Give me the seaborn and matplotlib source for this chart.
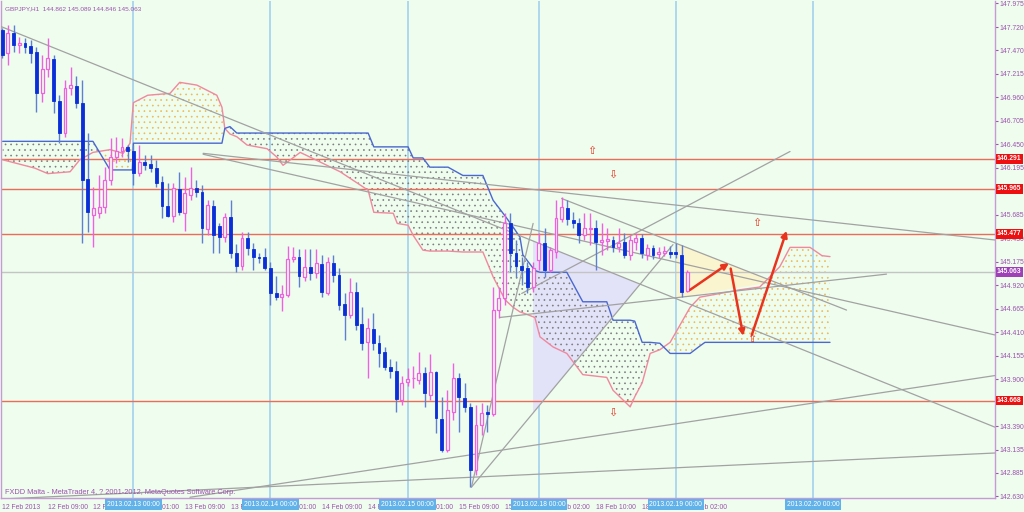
import numpy as np
import matplotlib
matplotlib.use("Agg")
import matplotlib.pyplot as plt
import matplotlib.transforms as mtransforms
from matplotlib.patches import Polygon
import seaborn as sns

# ===== DADOS (GBPJPY H1) =====
# posicao da barra (0 = 2013.02.13 00:00), uma vela por hora
bar_idx = list(range(-23, 98))

open_ = [147.69, 147.44, 147.66, 147.53, 147.55, 147.51, 147.45, 147.00, 147.26, 147.37,
         146.92, 146.57, 147.06, 147.08, 146.90, 146.07, 145.68, 145.70, 145.77, 146.06,
         146.31, 146.38, 146.42, 146.38, 146.14, 146.26, 146.23, 146.19, 146.04, 145.78,
         145.67, 145.96, 145.70, 145.90, 145.97, 145.93, 145.53, 145.78, 145.56, 145.44,
         145.66, 145.27, 145.13, 145.43, 145.31, 145.23, 145.23, 145.11, 144.84, 144.79,
         144.81, 145.20, 145.23, 145.01, 145.12, 145.05, 145.15, 144.84, 145.16, 145.03,
         144.72, 144.60, 144.85, 144.50, 144.30, 144.44, 144.29, 144.19, 144.03, 143.99,
         143.68, 143.87, 143.91, 143.89, 143.97, 143.73, 143.98, 143.47, 143.13, 143.54,
         143.91, 143.70, 143.60, 142.92, 143.40, 143.54, 143.52, 144.65, 144.78, 145.59,
         145.27, 145.13, 145.11, 144.90, 145.19, 145.38, 145.08, 145.28, 145.64, 145.76,
         145.63, 145.59, 145.46, 145.53, 145.54, 145.39, 145.40, 145.41, 145.33, 145.39,
         145.25, 145.39, 145.43, 145.25, 145.32, 145.26, 145.27, 145.28, 145.28, 145.25,
         144.862]
high = [147.71, 147.74, 147.74, 147.61, 147.60, 147.58, 147.50, 147.42, 147.60, 147.42,
        146.98, 147.15, 147.29, 147.19, 147.15, 146.57, 145.98, 146.11, 146.20, 146.52,
        146.53, 146.52, 146.44, 146.44, 146.44, 146.33, 146.33, 146.28, 146.10, 146.03,
        146.03, 146.15, 146.09, 146.20, 146.06, 146.01, 145.84, 145.84, 145.59, 145.70,
        145.84, 145.37, 145.50, 145.50, 145.38, 145.27, 145.32, 145.17, 145.02, 144.92,
        145.34, 145.33, 145.31, 145.31, 145.31, 145.31, 145.25, 145.23, 145.25, 145.11,
        144.84, 145.00, 144.95, 144.68, 144.56, 144.62, 144.38, 144.25, 144.12, 144.10,
        143.94, 144.02, 144.04, 144.19, 144.03, 144.17, 143.99, 143.71, 143.78, 144.08,
        143.97, 143.86, 143.64, 143.62, 143.64, 143.62, 144.90, 144.90, 145.70, 145.70,
        145.41, 145.23, 145.17, 145.17, 145.49, 145.54, 145.33, 145.84, 145.88, 145.84,
        145.71, 145.65, 145.70, 145.70, 145.63, 145.59, 145.54, 145.45, 145.54, 145.49,
        145.46, 145.49, 145.48, 145.37, 145.36, 145.33, 145.34, 145.34, 145.38, 145.36,
        145.089]
low = [147.38, 147.31, 147.45, 147.44, 147.44, 147.33, 146.80, 146.91, 147.18, 146.79,
       146.46, 146.53, 146.98, 146.84, 145.38, 145.50, 145.33, 145.65, 145.70, 146.01,
       146.25, 146.31, 146.26, 146.01, 146.10, 146.17, 146.15, 145.99, 145.65, 145.66,
       145.60, 145.68, 145.51, 145.84, 145.88, 145.38, 145.46, 145.27, 145.27, 145.39,
       145.21, 145.06, 145.08, 145.25, 145.09, 145.16, 145.08, 144.71, 144.76, 144.64,
       144.79, 145.17, 144.90, 144.97, 144.98, 145.00, 144.79, 144.81, 144.95, 144.65,
       144.33, 144.56, 144.43, 144.22, 143.91, 144.22, 144.03, 144.00, 143.91, 143.54,
       143.62, 143.83, 143.80, 143.85, 143.60, 143.68, 143.32, 143.11, 143.11, 143.46,
       143.33, 143.54, 142.73, 142.86, 143.30, 143.33, 143.50, 144.56, 144.71, 145.06,
       145.01, 144.92, 144.84, 144.85, 145.08, 145.01, 145.06, 145.21, 145.60, 145.57,
       145.54, 145.38, 145.41, 145.36, 145.08, 145.25, 145.30, 145.28, 145.28, 145.21,
       145.19, 145.30, 145.21, 145.19, 145.20, 145.21, 145.24, 145.21, 145.21, 144.79,
       144.846]
close = [147.42, 147.66, 147.53, 147.55, 147.50, 147.44, 147.00, 147.26, 147.38, 146.92,
         146.57, 147.06, 147.09, 146.90, 146.06, 145.71, 145.76, 145.77, 146.06, 146.31,
         146.38, 146.42, 146.38, 146.14, 146.26, 146.22, 146.19, 146.03, 145.78, 145.67,
         145.97, 145.71, 145.92, 145.97, 145.93, 145.54, 145.79, 145.46, 145.44, 145.66,
         145.27, 145.13, 145.43, 145.32, 145.23, 145.21, 145.11, 144.84, 144.79, 144.82,
         145.20, 145.23, 145.02, 145.12, 145.05, 145.16, 144.85, 145.17, 145.03, 144.71,
         144.60, 144.85, 144.49, 144.29, 144.46, 144.29, 144.18, 144.03, 143.99, 143.69,
         143.86, 143.90, 143.91, 143.97, 143.75, 143.98, 143.48, 143.13, 143.57, 143.91,
         143.71, 143.60, 142.92, 143.40, 143.53, 143.52, 144.65, 144.78, 145.59, 145.27,
         145.13, 145.09, 144.90, 145.11, 145.38, 145.08, 145.30, 145.65, 145.77, 145.64,
         145.59, 145.46, 145.54, 145.54, 145.39, 145.41, 145.42, 145.33, 145.38, 145.25,
         145.41, 145.43, 145.27, 145.32, 145.25, 145.28, 145.29, 145.26, 145.26, 144.85,
         145.063]

cloud_j = [-22.9, -17.3, -15.0, -11.1, -9.4, -7.1, -4.1, -1.8, -0.6, -0.2, 0.0, 2.5, 6.4,
           8.1, 11.1, 14.6, 15.5, 16.0, 16.9, 18.1, 19.9, 23.4, 25.1, 26.2, 29.2, 30.9,
           36.2, 41.1, 42.1, 45.5, 46.2, 48.1, 49.0, 50.7, 51.9, 55.1, 57.7, 61.2, 63.0,
           65.1, 66.5, 67.7, 68.2, 70.3, 71.2, 73.5, 75.9, 78.7, 82.9, 84.0, 87.0, 87.8,
           89.1, 90.5, 92.2, 94.0, 97.5, 99.2, 100.1, 106.2, 109.7, 113.2, 115.0, 118.5,
           120.6, 122.0]
span_a = [146.28, 146.19, 146.13, 146.15, 146.28, 146.36, 146.39, 146.35, 146.46, 146.77,
          146.90, 146.98, 147.00, 147.12, 147.09, 146.98, 146.85, 146.62, 146.56, 146.53,
          146.44, 146.40, 146.31, 146.22, 146.36, 146.31, 146.15, 145.95, 145.71, 145.70,
          145.59, 145.57, 145.46, 145.30, 145.29, 145.29, 145.28, 145.28, 145.01, 144.76,
          144.68, 144.63, 144.62, 144.57, 144.36, 144.25, 144.18, 143.95, 143.92, 143.78,
          143.60, 143.71, 143.86, 144.18, 144.22, 144.30, 144.68, 144.79, 144.80, 144.87,
          144.90, 145.12, 145.33, 145.33, 145.24, 145.23]
span_b = [146.48, 146.48, 146.48, 146.48, 146.48, 146.48, 146.17, 146.17, 146.17, 146.17,
          146.46, 146.46, 146.46, 146.46, 146.46, 146.46, 146.46, 146.62, 146.64, 146.57,
          146.57, 146.57, 146.57, 146.57, 146.57, 146.57, 146.57, 146.57, 146.42, 146.42,
          146.42, 146.42, 146.30, 146.30, 146.20, 146.20, 146.11, 146.11, 145.84, 145.67,
          145.55, 145.44, 145.25, 145.08, 145.06, 145.06, 145.06, 144.74, 144.74, 144.54,
          144.54, 144.53, 144.30, 144.30, 144.29, 144.18, 144.18, 144.26, 144.30, 144.30,
          144.30, 144.30, 144.30, 144.30, 144.30, 144.30]

# niveis horizontais
red_levels = [146.291, 145.965, 145.477, 143.668]
last_price = 145.063

# linhas de tendencia (barra, preco) -> (barra, preco)
trend_x0 = [-23.4, 12.2, 12.2, 59.2, 59.2, 68.0, 64.2, 75.0, -23.4, 9.9]
trend_p0 = [147.73, 146.35, 146.34, 142.73, 142.73, 144.83, 144.57, 145.86, 142.60, 142.62]
trend_x1 = [150.9, 150.9, 150.9, 70.0, 94.5, 115.0, 131.9, 124.9, 150.9, 150.9]
trend_p1 = [143.38, 145.41, 144.38, 145.59, 145.36, 146.37, 145.04, 144.65, 143.10, 143.94]

# triangulos
tri_lilac_x = [70.0, 70.0, 88.8]
tri_lilac_p = [145.40, 143.53, 144.93]
tri_yellow_x = [95.1, 95.1, 112.3]
tri_yellow_p = [145.37, 144.78, 144.96]

# setas vermelhas (cenario)
arrow_x0 = [97.5, 104.6, 108.3]
arrow_p0 = [144.87, 145.10, 144.38]
arrow_x1 = [104.3, 106.8, 114.4]
arrow_p1 = [145.16, 144.37, 145.51]

# fractais
fractal_up_x = [80.3, 109.1, 108.3]
fractal_up_p = [146.37, 145.59, 144.34]
fractal_dn_x = [83.9, 84.0]
fractal_dn_p = [146.12, 143.54]

# eixos
xtick_pos = [-23, -15, -7, 1, 9, 17, 25, 33, 41, 49, 57, 65, 73, 81, 89, 97]
xtick_lbl = ["12 Feb 2013", "12 Feb 09:00", "12 Feb 17:00", "13 Feb 01:00", "13 Feb 09:00",
             "13 Feb 17:00", "14 Feb 01:00", "14 Feb 09:00", "14 Feb 17:00", "15 Feb 01:00",
             "15 Feb 09:00", "15 Feb 17:00", "18 Feb 02:00", "18 Feb 10:00", "18 Feb 18:00",
             "19 Feb 02:00"]
day_pos = [0, 24, 48, 71, 95, 119]
day_lbl = ["2013.02.13 00:00", "2013.02.14 00:00", "2013.02.15 00:00",
           "2013.02.18 00:00", "2013.02.19 00:00", "2013.02.20 00:00"]
ytick_vals = [147.975, 147.720, 147.470, 147.215, 146.960, 146.705, 146.450, 146.195,
              145.685, 145.430, 145.175, 144.920, 144.665, 144.410, 144.155, 143.900,
              143.390, 143.135, 142.885, 142.630]

# ===== ESTILO =====
BG = "#EFFDEE"
PURPLE = "#9C52AE"
BLUE = "#0A2FD8"
BLUE_WICK = "#5F7FD0"
PINK = "#F060E0"
SPAN_A_C = "#F0889E"
SPAN_B_C = "#4A68D0"
REDLINE = "#EE6B57"
TREND = "#A2A2A2"
FS = 4.9

sns.set_theme(style="white")
plt.rcParams["font.family"] = ["Liberation Sans", "DejaVu Sans"]
plt.rcParams["hatch.linewidth"] = 0.45

fig = plt.figure(figsize=(10.24, 5.12), dpi=100, facecolor=BG)
ax = fig.add_axes([1 / 1024, 14 / 512, 994 / 1024, 497 / 512])
ax.set_facecolor(BG)
ax.set_xlim(-23.2, 150.9)
ax.set_ylim(142.612, 148.002)

# separadores de dia
for d in day_pos:
    ax.axvline(d, color="#A9D5EE", lw=1.3, zorder=1)

# triangulos
ax.add_patch(Polygon(list(zip(tri_lilac_x, tri_lilac_p)), closed=True,
                     facecolor="#E2E2F8", edgecolor="none", zorder=1))
ax.add_patch(Polygon(list(zip(tri_yellow_x, tri_yellow_p)), closed=True,
                     facecolor="#FBF5CF", edgecolor="none", zorder=1))

# nuvem
a = np.array(span_a)
b = np.array(span_b)
ax.fill_between(cloud_j, a, b, where=a >= b, interpolate=True, facecolor="none",
                edgecolor="#EDB850", hatch="...", lw=0, zorder=2)
ax.fill_between(cloud_j, a, b, where=a < b, interpolate=True, facecolor="none",
                edgecolor="#7A7A7A", hatch="...", lw=0, zorder=2)
sns.lineplot(x=cloud_j, y=span_a, ax=ax, color=SPAN_A_C, lw=1, sort=False, zorder=3)
sns.lineplot(x=cloud_j, y=span_b, ax=ax, color=SPAN_B_C, lw=1, sort=False, zorder=3)

# niveis
for p in red_levels:
    ax.axhline(p, color=REDLINE, lw=1, zorder=2)
ax.axhline(last_price, color="#C4C4C4", lw=1, zorder=2)

# tendencias
for x0, p0, x1, p1 in zip(trend_x0, trend_p0, trend_x1, trend_p1):
    ax.plot([x0, x1], [p0, p1], color=TREND, lw=0.9, zorder=4)

# velas
x = np.array(bar_idx)
o, h, l, c = map(np.array, (open_, high, low, close))
bull = c >= o
body_lo = np.minimum(o, c)
body_h = np.maximum(np.abs(c - o), 0.008)
ax.vlines(x[~bull], l[~bull], h[~bull], color=BLUE_WICK, lw=1, zorder=5)
ax.vlines(x[bull], l[bull], h[bull], color=PINK, lw=1, zorder=5)
ax.bar(x[~bull], body_h[~bull], bottom=body_lo[~bull], width=0.5, color=BLUE,
       edgecolor=BLUE, lw=0.6, zorder=6)
ax.bar(x[bull], body_h[bull], bottom=body_lo[bull], width=0.5, color=BG,
       edgecolor=PINK, lw=0.9, zorder=6)

# setas
for x0, p0, x1, p1 in zip(arrow_x0, arrow_p0, arrow_x1, arrow_p1):
    ax.annotate("", xy=(x1, p1), xytext=(x0, p0),
                arrowprops=dict(arrowstyle="-|>", color="#E8341F", lw=1.8,
                                mutation_scale=9, shrinkA=0, shrinkB=0), zorder=7)
for fx, fp in zip(fractal_up_x, fractal_up_p):
    ax.text(fx, fp, "\u21e7", ha="center", va="center", fontsize=8, color="#E8341F",
            family="DejaVu Sans", zorder=7)
for fx, fp in zip(fractal_dn_x, fractal_dn_p):
    ax.text(fx, fp, "\u21e9", ha="center", va="center", fontsize=8, color="#E8341F",
            family="DejaVu Sans", zorder=7)

# eixos
ax.spines["top"].set_visible(False)
for s in ["left", "right", "bottom"]:
    ax.spines[s].set_color("#C79AD6")
    ax.spines[s].set_linewidth(1)
ax.yaxis.tick_right()
ax.set_yticks(ytick_vals)
ax.set_yticklabels([f"{v:.3f}" for v in ytick_vals])
ax.tick_params(axis="y", direction="out", length=2, width=0.8, colors=PURPLE,
               labelsize=FS, pad=1.5)
ax.set_xticks(xtick_pos)
ax.set_xticklabels(xtick_lbl, ha="left")
ax.tick_params(axis="x", direction="out", length=3, width=0.8, colors=PURPLE,
               labelsize=FS, pad=1)
ax.set_xlabel("")
ax.set_ylabel("")

trans_x = mtransforms.blended_transform_factory(ax.transData, ax.transAxes)
for d, lbl in zip(day_pos, day_lbl):
    ax.text(d, -0.006, lbl, transform=trans_x, ha="center", va="top", fontsize=FS,
            color="white", clip_on=False, zorder=10,
            bbox=dict(boxstyle="square,pad=0.25", fc="#62B2EA", ec="none"))

trans_y = ax.get_yaxis_transform()
for p in red_levels:
    ax.text(1.002, p, f"{p:.3f}", transform=trans_y, ha="left", va="center", fontsize=FS,
            color="white", fontweight="bold", clip_on=False, zorder=10,
            bbox=dict(boxstyle="square,pad=0.2", fc="#EE1010", ec="none"))
ax.text(1.002, last_price, f"{last_price:.3f}", transform=trans_y, ha="left", va="center",
        fontsize=FS, color="white", fontweight="bold", clip_on=False, zorder=10,
        bbox=dict(boxstyle="square,pad=0.2", fc="#A040B8", ec="none"))

fig.text(5 / 1024, 1 - 9 / 512, "GBPJPY,H1  144.862 145.089 144.846 145.063",
         fontsize=4.6, color=PURPLE, va="center")
fig.text(5 / 1024, 1 - 492 / 512,
         "FXDD Malta - MetaTrader 4, ? 2001-2012, MetaQuotes Software Corp.",
         fontsize=5.3, color=PURPLE, va="center")

fig.savefig("out.png", dpi=100, facecolor=BG)
